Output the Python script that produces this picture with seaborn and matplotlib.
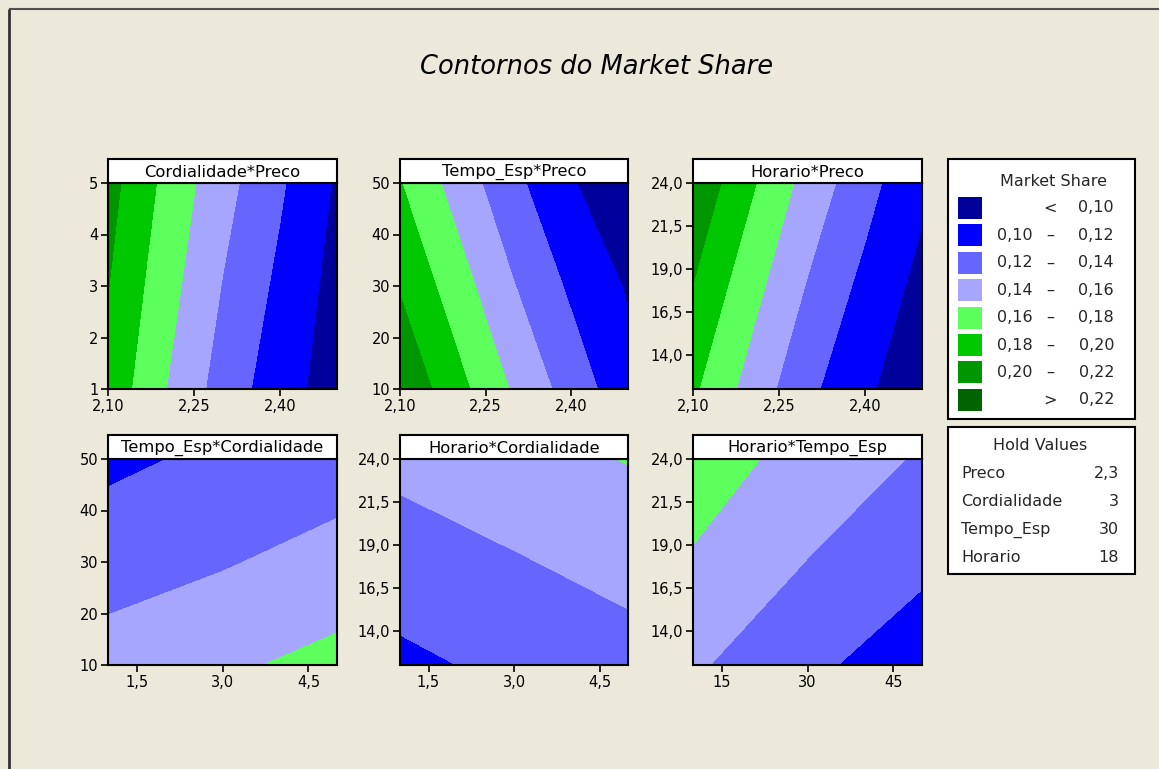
import numpy as np
import matplotlib
matplotlib.use("Agg")
import matplotlib.pyplot as plt
from matplotlib.patches import Rectangle
import seaborn as sns

# ---------------------------------------------------------------------------
# Market share read on a grid of factor settings (rows follow the y factor)
# ---------------------------------------------------------------------------
preco = [2.10, 2.20, 2.30, 2.40, 2.50]
cord_two = [1, 5]
cord_three = [1, 3, 5]
tempo = [10, 30, 50]
horario_two = [12, 24]
horario_three = [12, 18, 24]

ms_cord_preco = [
    [0.1935, 0.1606, 0.1314, 0.1087, 0.0900],   # Cordialidade = 1
    [0.2077, 0.1750, 0.1471, 0.1228, 0.0975],   # Cordialidade = 5
]
ms_tempo_preco = [
    [0.2166, 0.1867, 0.1573, 0.1313, 0.1070],   # Tempo_Esp = 10
    [0.1985, 0.1691, 0.1407, 0.1166, 0.0980],   # Tempo_Esp = 30
    [0.1809, 0.1519, 0.1248, 0.1020, 0.0820],   # Tempo_Esp = 50
]
ms_hor_preco = [
    [0.1832, 0.1526, 0.1246, 0.1037, 0.0852],   # Horario = 12
    [0.2162, 0.1833, 0.1528, 0.1268, 0.1039],   # Horario = 24
]
ms_tempo_cord = [
    [0.1482, 0.1569, 0.1656],                   # Tempo_Esp = 10
    [0.1313, 0.1383, 0.1476],                   # Tempo_Esp = 30
    [0.1158, 0.1240, 0.1297],                   # Tempo_Esp = 50
]
ms_hor_cord = [
    [0.1157, 0.1244, 0.1324],                   # Horario = 12
    [0.1304, 0.1384, 0.1464],                   # Horario = 18
    [0.1450, 0.1527, 0.1608],                   # Horario = 24
]
ms_hor_tempo = [
    [0.1427, 0.1248, 0.1068],                   # Horario = 12
    [0.1582, 0.1395, 0.1248],                   # Horario = 18
    [0.1692, 0.1535, 0.1377],                   # Horario = 24
]

# Contour bands and their colours (low -> high)
levels = [-1.0, 0.10, 0.12, 0.14, 0.16, 0.18, 0.20, 0.22, 1.0]
band_colors = ["#00009A", "#0000FF", "#6666FF", "#A6A6FF",
               "#5CFF5C", "#00C800", "#009600", "#006400"]
band_labels = [("", "<", "0,10"), ("0,10", "–", "0,12"), ("0,12", "–", "0,14"),
               ("0,14", "–", "0,16"), ("0,16", "–", "0,18"), ("0,18", "–", "0,20"),
               ("0,20", "–", "0,22"), ("", ">", "0,22")]

# Tick positions and labels
preco_ticks = [2.10, 2.25, 2.40]
preco_ticklabels = ["2,10", "2,25", "2,40"]
cord_ticks = [1.5, 3.0, 4.5]
cord_ticklabels = ["1,5", "3,0", "4,5"]
cord_yticks = [1, 2, 3, 4, 5]
cord_yticklabels = ["1", "2", "3", "4", "5"]
tempo_ticks = [15, 30, 45]
tempo_ticklabels = ["15", "30", "45"]
tempo_yticks = [10, 20, 30, 40, 50]
tempo_yticklabels = ["10", "20", "30", "40", "50"]
hor_ticks = [14.0, 16.5, 19.0, 21.5, 24.0]
hor_ticklabels = ["14,0", "16,5", "19,0", "21,5", "24,0"]

hold_names = ["Preco", "Cordialidade", "Tempo_Esp", "Horario"]
hold_values = ["2,3", "3", "30", "18"]

panels = [
    dict(title="Cordialidade*Preco", x=preco, y=cord_two, z=ms_cord_preco,
         xt=preco_ticks, xtl=preco_ticklabels, yt=cord_yticks, ytl=cord_yticklabels),
    dict(title="Tempo_Esp*Preco", x=preco, y=tempo, z=ms_tempo_preco,
         xt=preco_ticks, xtl=preco_ticklabels, yt=tempo_yticks, ytl=tempo_yticklabels),
    dict(title="Horario*Preco", x=preco, y=horario_two, z=ms_hor_preco,
         xt=preco_ticks, xtl=preco_ticklabels, yt=hor_ticks, ytl=hor_ticklabels),
    dict(title="Tempo_Esp*Cordialidade", x=cord_three, y=tempo, z=ms_tempo_cord,
         xt=cord_ticks, xtl=cord_ticklabels, yt=tempo_yticks, ytl=tempo_yticklabels),
    dict(title="Horario*Cordialidade", x=cord_three, y=horario_three, z=ms_hor_cord,
         xt=cord_ticks, xtl=cord_ticklabels, yt=hor_ticks, ytl=hor_ticklabels),
    dict(title="Horario*Tempo_Esp", x=tempo, y=horario_three, z=ms_hor_tempo,
         xt=tempo_ticks, xtl=tempo_ticklabels, yt=hor_ticks, ytl=hor_ticklabels),
]

# ---------------------------------------------------------------------------
sns.set_theme(style="ticks")
plt.rcParams["font.family"] = ["DejaVu Sans"]

BG = "#ECE9DA"
W, H = 1159, 769
fig = plt.figure(figsize=(W / 100, H / 100), dpi=100, facecolor=BG)
palette = sns.color_palette(band_colors)


def rect(left, top, right, bottom):
    return [left / W, 1 - bottom / H, (right - left) / W, (bottom - top) / H]


col_edges = [(108, 337), (400, 628), (693, 922)]
row_edges = [(183, 389), (459, 665)]
STRIP = 24

for i, p in enumerate(panels):
    left, right = col_edges[i % 3]
    top, bottom = row_edges[i // 3]
    ax = fig.add_axes(rect(left, top, right, bottom))
    X, Y = np.meshgrid(p["x"], p["y"])
    ax.contourf(X, Y, np.array(p["z"]), levels=levels, colors=palette)
    ax.set_xlim(min(p["x"]), max(p["x"]))
    ax.set_ylim(min(p["y"]), max(p["y"]))
    ax.set_xticks(p["xt"])
    ax.set_xticklabels(p["xtl"])
    ax.set_yticks(p["yt"])
    ax.set_yticklabels(p["ytl"])
    ax.tick_params(direction="out", length=5, width=1.2, color="black",
                   labelsize=10.5, pad=2, labelcolor="black")
    for s in ax.spines.values():
        s.set_color("black")
        s.set_linewidth(1.5)
        s.set_visible(True)
    ax.set_xlabel("")
    ax.set_ylabel("")

    sax = fig.add_axes(rect(left, top - STRIP, right, top))
    sax.set_facecolor("white")
    sax.set_xticks([])
    sax.set_yticks([])
    for s in sax.spines.values():
        s.set_color("black")
        s.set_linewidth(1.5)
        s.set_visible(True)
    sax.text(0.5, 0.45, p["title"], ha="center", va="center",
             fontsize=11.8, color="black", transform=sax.transAxes)

# Overlay in pixel coordinates for title, frame and legend boxes
ov = fig.add_axes([0, 0, 1, 1], zorder=-1)
ov.set_xlim(0, W)
ov.set_ylim(H, 0)
ov.axis("off")

ov.plot([9, 9], [9, H], color="#303030", lw=2, solid_capstyle="butt")
ov.plot([9, W], [9, 9], color="#505050", lw=1.5, solid_capstyle="butt")

ov.text(597, 67, "Contornos do Market Share", ha="center", va="center",
        fontsize=18.5, style="italic", color="black")

# Market Share key
ov.add_patch(Rectangle((948, 159), 187, 260, facecolor="white",
                       edgecolor="black", lw=1.5))
ov.text(1053, 181, "Market Share", ha="center", va="center", fontsize=11.5)
sw_top, sw_step = 197, 27.4
for k, (c, lab) in enumerate(zip(palette, band_labels)):
    y0 = sw_top + k * sw_step
    ov.add_patch(Rectangle((958, y0), 24, 22, facecolor=c, edgecolor="none"))
    yc = y0 + 11
    lo, sym, hi = lab
    if lo:
        ov.text(1033, yc, lo, ha="right", va="center", fontsize=11.5)
    ov.text(1050, yc, sym, ha="center", va="center", fontsize=11.5)
    ov.text(1114, yc, hi, ha="right", va="center", fontsize=11.5)

# Hold Values box
ov.add_patch(Rectangle((948, 427), 187, 147, facecolor="white",
                       edgecolor="black", lw=1.5))
ov.text(1040, 446, "Hold Values", ha="center", va="center", fontsize=11.5)
for k, (nm, vl) in enumerate(zip(hold_names, hold_values)):
    yc = 473 + k * 28.3
    ov.text(961, yc, nm, ha="left", va="center", fontsize=11.5)
    ov.text(1119, yc, vl, ha="right", va="center", fontsize=11.5)

fig.savefig("out.png", dpi=100, facecolor=BG)
